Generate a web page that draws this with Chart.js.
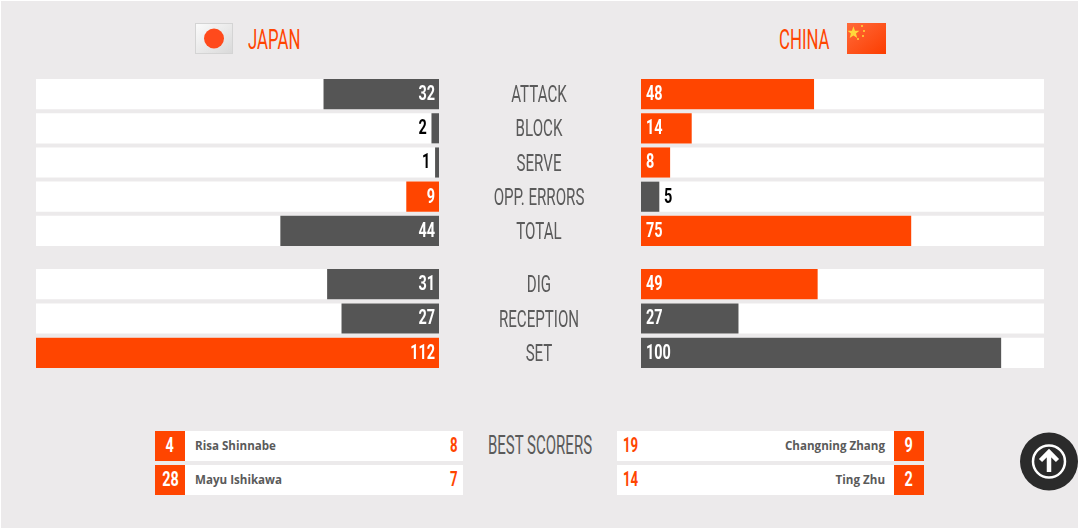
<!DOCTYPE html>
<html>
<head>
<meta charset="utf-8">
<script src="https://cdn.jsdelivr.net/npm/chart.js@4"></script>
<style>
html,body{margin:0;padding:0;}
body{width:1080px;height:529px;overflow:hidden;background:#fff;position:relative;font-family:Roboto,sans-serif;}
#page{position:absolute;left:1px;top:1px;width:1077px;height:527px;background:#eceaeb;}
canvas{position:absolute;}
.abs{position:absolute;}
.team{position:absolute;top:22px;font-size:28px;line-height:36px;color:#ff4500;transform:scaleX(.6);transform-origin:0 50%;white-space:nowrap;}
.title{position:absolute;left:340px;width:400px;text-align:center;color:#5a5a5a;font-size:25px;line-height:30px;top:431px;transform:scaleX(.6);}
.row{position:absolute;height:29.5px;background:#fff;}
.num{position:absolute;top:0;width:30px;height:29.5px;line-height:29.5px;text-align:center;background:#ff4500;color:#fff;}
.num span{display:inline-block;font-size:20px;font-weight:700;transform:scaleX(.72);}
.pts{position:absolute;top:0;line-height:29.5px;color:#ff4500;font-size:20px;font-weight:700;transform:scaleX(.66);}
.name{position:absolute;top:0;font:bold 11.6px/29.5px "Open Sans",sans-serif;color:#5a5a5a;}
</style>
</head>
<body>
<div id="page"></div>
<svg class="abs" style="left:195px;top:23px" width="38" height="31" viewBox="0 0 38 31">
	<defs><linearGradient id="jp" x1="0" y1="0" x2="1" y2="1"><stop offset="0" stop-color="#fbfbfb"/><stop offset="1" stop-color="#d9d9d9"/></linearGradient></defs>
	<rect x=".5" y=".5" width="37" height="30" fill="url(#jp)" stroke="#d4d4d4"/><circle cx="19" cy="15.5" r="10" fill="#ff4a1c"/>
</svg>
<div class="team" style="left:248px">JAPAN</div>
<div class="team" style="left:779px">CHINA</div>
<svg class="abs" style="left:847px;top:23px" width="39" height="31" viewBox="0 0 39 31">
	<defs><linearGradient id="cn" x1="0" y1="0" x2="1" y2="1"><stop offset="0" stop-color="#ff6a3a"/><stop offset="1" stop-color="#fc3d00"/></linearGradient></defs>
	<rect width="39" height="31" fill="url(#cn)"/>
	<polygon points="7,2 8.8,7.4 14,7.4 10,10.6 11.4,16 7,12.8 2.6,16 4,10.6 0,7.4 5.2,7.4" transform="translate(.5,1.5) scale(.85)" fill="#ffd83a"/>
	<circle cx="15" cy="3" r="1" fill="#ffd83a"/><circle cx="17" cy="8" r="1" fill="#ffd83a"/><circle cx="16" cy="13" r="1" fill="#ffd83a"/><circle cx="11" cy="16" r="1" fill="#ffd83a"/>
</svg>

<canvas id="topLeft" style="left:36px;top:77px"></canvas>
<canvas id="topRight" style="left:439px;top:77px"></canvas>
<canvas id="botLeft" style="left:36px;top:267px"></canvas>
<canvas id="botRight" style="left:439px;top:267px"></canvas>

<div class="title">BEST SCORERS</div>
<div id="scorers"></div>
<svg class="abs" style="left:1020px;top:432px" width="58" height="59" viewBox="0 0 58 59">
	<circle cx="29" cy="29.5" r="29" fill="#2b2b2b"/>
	<circle cx="29" cy="29.5" r="16" fill="none" stroke="#fff" stroke-width="2.5"/>
	<path d="M29 40V20M20.5 28.5L29 20l8.5 8.5" fill="none" stroke="#fff" stroke-width="4.5"/>
</svg>

<script>
'use strict';
const topCategories = ["ATTACK", "BLOCK", "SERVE", "OPP. ERRORS", "TOTAL"],
	topJapan = [32, 2, 1, 9, 44],
	topChina = [48, 14, 8, 5, 75];
const botCategories = ["DIG", "RECEPTION", "SET"],
	botJapan = [31, 27, 112],
	botChina = [49, 27, 100];
const japanNames = ["Risa Shinnabe", "Mayu Ishikawa"],
	japanNumbers = [4, 28],
	japanPoints = [8, 7];
const chinaNames = ["Changning Zhang", "Ting Zhu"],
	chinaNumbers = [9, 2],
	chinaPoints = [19, 14];

const ORANGE = "#ff4500", DARK = "#555555",
	AXIS_MAX = 112, ROW_H = 34.2, LABEL_W = 202;

//no condensed font is installed, so text gets squeezed horizontally
const narrowText = (ctx, text, x, y, squeeze) => {
	ctx.save();
	ctx.translate(x, y);
	ctx.scale(squeeze, 1);
	ctx.fillText(text, 0, 0);
	ctx.restore();
};

//writes the value at the base of each bar, inside when it fits, outside when not
//and the category names in the middle column
const barText = {
	id: "barText",
	afterDatasetsDraw(chart) {
		let ctx = chart.ctx,
			meta = chart.getDatasetMeta(1),
			data = chart.data.datasets[1].data,
			left = chart.options.scales.x.reverse;
		ctx.save();
		ctx.font = 'bold 19.5px Roboto';
		ctx.textBaseline = "middle";
		meta.data.forEach((bar, i) => {
			let inside = data[i] >= 8,
				x;
			if (left) {
				x = inside ? bar.base - 4 : bar.x - 5;
				ctx.textAlign = "right";
			} else {
				x = inside ? bar.base + 5 : bar.x + 5;
				ctx.textAlign = "left";
			}
			ctx.fillStyle = inside ? "#fff" : "#000";
			narrowText(ctx, data[i], x, bar.y + 1, 0.74);
		});
		if (!left) {
			ctx.font = '24px Roboto';
			ctx.textAlign = "center";
			ctx.fillStyle = "#5a5a5a";
			chart.data.labels.forEach((label, i) => {
				narrowText(ctx, label, LABEL_W / 2 - 1, chart.scales.y.getPixelForTick(i) + 2, 0.63);
			});
		}
		ctx.restore();
	}
};

const makeChart = (id, categories, values, others, side) => {
	let canvas = document.getElementById(id),
		left = side === "left",
		colors = values.map((v, i) => v > others[i] ? ORANGE : DARK);
	canvas.width = left ? 403 : 403 + LABEL_W;
	canvas.height = Math.round(categories.length * ROW_H);
	return new Chart(canvas, {
		type: "bar",
		data: {
			labels: categories,
			datasets: [
				//white track behind the value bar
				{data: values.map(() => AXIS_MAX), backgroundColor: "#fff", barThickness: 29.5, grouped: false, order: 2},
				{data: values, backgroundColor: colors, barThickness: 29.5, grouped: false, order: 1}
			]
		},
		options: {
			indexAxis: "y",
			responsive: false,
			devicePixelRatio: 1,
			animation: false,
			layout: {padding: 0},
			plugins: {legend: {display: false}, tooltip: {enabled: false}},
			scales: {
				x: {display: false, min: 0, max: AXIS_MAX, reverse: left},
				y: {
					display: !left,
					grid: {display: false},
					border: {display: false},
					afterFit: (axis) => { axis.width = left ? 0 : LABEL_W; },
					ticks: {display: false}
				}
			}
		},
		plugins: [barText]
	});
};

const fillScorers = () => {
	let box = document.getElementById("scorers"),
		html = "";
	for (let i = 0; i < japanNames.length; i++) {
		let top = 431 + i * 34;
		html += `<div class="row" style="left:155px;top:${top}px;width:308px">`
			+ `<div class="num" style="left:0"><span>${japanNumbers[i]}</span></div>`
			+ `<div class="name" style="left:40px">${japanNames[i]}</div>`
			+ `<div class="pts" style="right:6px;transform-origin:100% 50%">${japanPoints[i]}</div></div>`;
		html += `<div class="row" style="left:617px;top:${top}px;width:307px">`
			+ `<div class="pts" style="left:6px;transform-origin:0 50%">${chinaPoints[i]}</div>`
			+ `<div class="name" style="right:39px">${chinaNames[i]}</div>`
			+ `<div class="num" style="right:0"><span>${chinaNumbers[i]}</span></div></div>`;
	}
	box.innerHTML = html;
};

makeChart("topLeft", topCategories, topJapan, topChina, "left");
makeChart("topRight", topCategories, topChina, topJapan, "right");
makeChart("botLeft", botCategories, botJapan, botChina, "left");
makeChart("botRight", botCategories, botChina, botJapan, "right");
fillScorers();
</script>
</body>
</html>
